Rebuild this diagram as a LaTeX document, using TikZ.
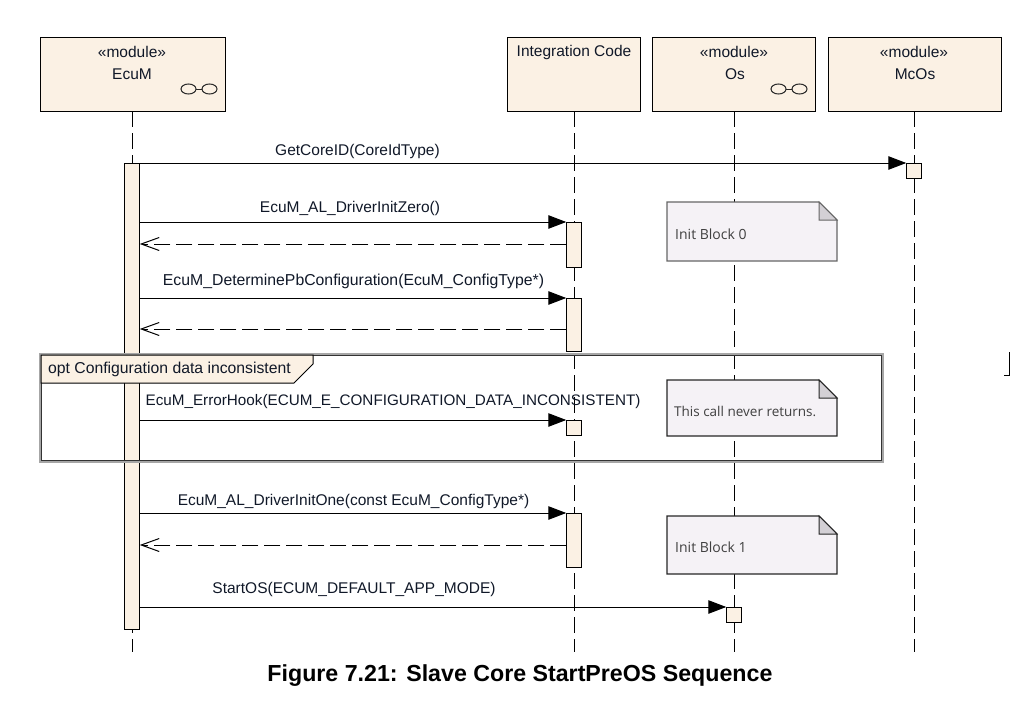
\documentclass[tikz,border=0pt]{standalone}
\usepackage{fontspec}
\setmainfont{Liberation Sans}
\newfontfamily\notefont{Open Sans}
\usetikzlibrary{arrows.meta}
\definecolor{modfill}{HTML}{FBF1E4}
\definecolor{notefill}{HTML}{F5F2F6}
\definecolor{foldfill}{HTML}{D3D0D5}
\definecolor{notetext}{HTML}{404040}
\definecolor{labeltext}{HTML}{101828}
\tikzset{
  lbl/.style={inner sep=0pt,text=labeltext,font=\fontsize{15.5}{18}\selectfont},
  modbox/.style={draw=black,line width=1pt,fill=modfill,inner sep=0pt},
  act/.style={draw=black,line width=1pt,fill=modfill,inner sep=0pt,minimum width=14.5pt},
  life/.style={draw=black,line width=1pt,dash pattern=on 16pt off 6pt},
  msg/.style={draw=black,line width=1pt,-{Triangle[length=18pt,width=13.5pt]}},
  ret/.style={draw=black,line width=1pt,dash pattern=on 16pt off 6pt,-{Straight Barb[length=18pt,width=13pt,line width=1pt]}},
  notepath/.style={line width=1.3pt,fill=notefill,line join=miter},
  foldpath/.style={line width=1pt,fill=foldfill},
  notelbl/.style={inner sep=0pt,text=notetext,font=\notefont\fontsize{14}{16}\selectfont},
  glass/.style={draw=black!85,line width=1pt}
}
\newcommand{\notesheet}[5]{% colour, x0, y0, x1, y1
  \path[notepath,draw=#1] (#2,#3) -- (#4-18,#3) -- (#4,#3+18) -- (#4,#5) -- (#2,#5) -- cycle;
  \path[foldpath,draw=#1] (#4-18,#3) -- (#4-18,#3+18) -- (#4,#3+18) -- cycle;
}
\newcommand{\glasses}[2]{%
  \draw[glass] (#1,#2) ellipse (7.5pt and 5pt);
  \draw[glass] (#1+21,#2) ellipse (7.5pt and 5pt);
  \draw[glass] (#1+7.5,#2) -- (#1+13.5,#2);
}
\begin{document}
\begin{tikzpicture}[x=1pt,y=-1pt]
\useasboundingbox (0,0) rectangle (1035,701);
% header boxes
\node[modbox,anchor=north west,minimum width=185pt,minimum height=74pt] (ecum) at (40,37) {};
\node[modbox,anchor=north west,minimum width=133pt,minimum height=74pt] (integ) at (507,37) {};
\node[modbox,anchor=north west,minimum width=163pt,minimum height=74pt] (os) at (652,37) {};
\node[modbox,anchor=north west,minimum width=173pt,minimum height=74pt] (mcos) at (828,37) {};
% lifeline ends
\coordinate (ecumEnd) at (132,652);
\coordinate (integEnd) at (574,652);
\coordinate (osEnd) at (734,652);
\coordinate (mcosEnd) at (914,652);
\coordinate (ecumTop) at (132,111);
\coordinate (integTop) at (574,111);
\coordinate (osTop) at (734,111);
\coordinate (mcosTop) at (914,111);
\draw[life] (ecumTop) -- (ecumEnd);
\draw[life] (integTop) -- (integEnd);
\draw[life] (osTop) -- (osEnd);
\draw[life] (mcosTop) -- (mcosEnd);
% header texts
\node[lbl] (t1) at (132,52) {«module»};
\node[lbl] (t2) at (132,74.5) {EcuM};
\node[lbl] (t3) at (574,52.5) {Integration Code};
\node[lbl] (t4) at (734,52) {«module»};
\node[lbl] (t5) at (735,74.5) {Os};
\node[lbl] (t6) at (914,52) {«module»};
\node[lbl] (t7) at (915,74.5) {McOs};
\glasses{188.5}{89}
\glasses{778.5}{89}
% notes
\notesheet{black!60}{667}{202}{837}{261}
\notesheet{black!85}{667}{380}{837}{436}
\notesheet{black!85}{667}{516}{837}{574}
\node[notelbl,anchor=west] (nt0) at (675,234) {Init Block 0};
\node[notelbl,anchor=west,font=\notefont\fontsize{13.5}{16}\selectfont] (nt1) at (674,411) {This call never returns.};
\node[notelbl,anchor=west] (nt2) at (675,547) {Init Block 1};
% activations
\node[act,anchor=north,minimum height=466pt] (aE) at (132,163) {};
\node[act,anchor=north,minimum height=45pt] (a1) at (574,222) {};
\node[act,anchor=north,minimum height=53pt] (a2) at (574,298) {};
\node[act,anchor=north,minimum height=15pt] (a3) at (574,420) {};
\node[act,anchor=north,minimum height=54pt] (a4) at (574,513) {};
\node[act,anchor=north,minimum height=15pt] (aM) at (914,163) {};
\node[act,anchor=north,minimum height=15pt] (aO) at (734,607) {};
% frame
\draw[black!35,line width=3pt] (40,354) rectangle (882,461);
\draw[black!80,line width=1pt] (41,355) rectangle (881,460);
\path[draw=black,line width=1pt,fill=modfill] (41,355) -- (313,355) -- (313,364) -- (294,383) -- (41,383) -- cycle;
\node[lbl,anchor=west,font=\fontsize{15.75}{18}\selectfont] (optl) at (48,369) {opt Configuration data inconsistent};
% messages
\draw[msg] (aE.north east) -- (aM.north west);
\draw[msg] (aE.east |- a1.north) -- (a1.north west);
\draw[ret] ([yshift=-22pt]a1.north west) -- ([yshift=-22pt]aE.east |- a1.north);
\draw[msg] (aE.east |- a2.north) -- (a2.north west);
\draw[ret] ([yshift=-31pt]a2.north west) -- ([yshift=-31pt]aE.east |- a2.north);
\draw[msg] (aE.east |- a3.north) -- (a3.north west);
\draw[msg] (aE.east |- a4.north) -- (a4.north west);
\draw[ret] ([yshift=-32pt]a4.north west) -- ([yshift=-32pt]aE.east |- a4.north);
\draw[msg] (aE.east |- aO.north) -- (aO.north west);
% labels
\node[lbl] (m1) at (357.5,151.5) {GetCoreID(CoreIdType)};
\node[lbl] (m2) at (350,208.5) {EcuM\_AL\_DriverInitZero()};
\node[lbl,font=\fontsize{15.8}{18}\selectfont] (m3) at (353.5,281.5) {EcuM\_DeterminePbConfiguration(EcuM\_ConfigType*)};
\node[lbl,font=\fontsize{15.25}{18}\selectfont] (m4) at (393,401.5) {EcuM\_ErrorHook(ECUM\_E\_CONFIGURATION\_DATA\_INCONSISTENT)};
\node[lbl] (m5) at (353.5,501.5) {EcuM\_AL\_DriverInitOne(const EcuM\_ConfigType*)};
\node[lbl] (m6) at (354,589.5) {StartOS(ECUM\_DEFAULT\_APP\_MODE)};
% stray mark
\coordinate (markA) at (1009,352);
\coordinate (markB) at (1009,375);
\coordinate (markC) at (1004,375);
\draw[black,line width=0.8pt] (markA) -- (markB) -- (markC);
% caption
\node[inner sep=0pt,font=\bfseries\fontsize{23.2}{26}\selectfont] (cap) at (520,675.5) {Figure 7.21: Slave Core StartPreOS Sequence};
\end{tikzpicture}
\end{document}
